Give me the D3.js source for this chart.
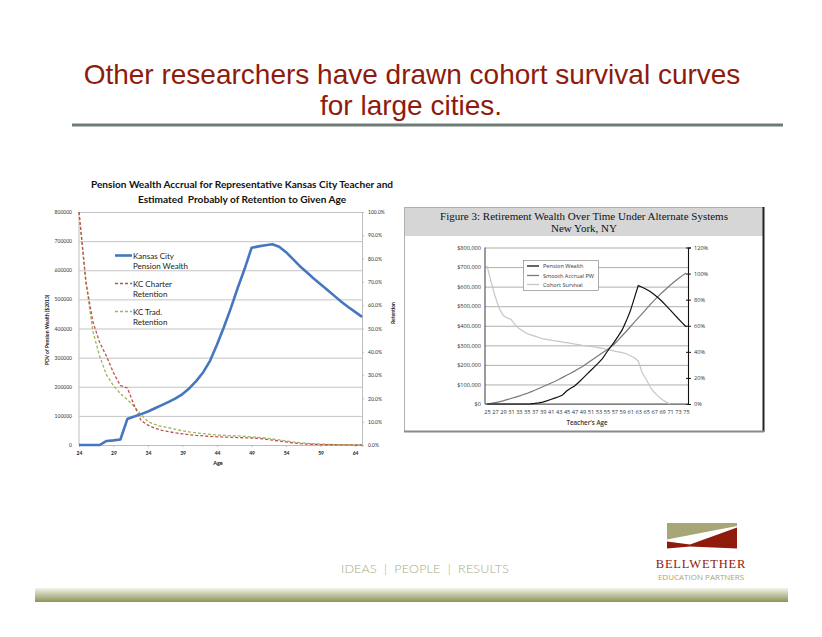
<!DOCTYPE html>
<html>
<head>
<meta charset="utf-8">
<script src="https://cdn.jsdelivr.net/npm/d3@7"></script>
<style>
  body { margin: 0; background: #fff; }
  svg { display: block; }
</style>
</head>
<body>
<svg id="slide" width="822" height="637"></svg>
<script>
// ---- Kansas City chart data (ages 24..65) ----
const kcAges = [24,25,26,27,28,29,30,31,32,33,34,35,36,37,38,39,40,41,42,43,44,
                45,46,47,48,49,50,51,52,53,54,55,56,57,58,59,60,61,62,63,64,65];
const kcWealth = [0,0,0,0,14000,16000,19000,89000,98000,106000,115000,126000,137000,148000,
                  160000,175000,195000,220000,250000,290000,345000,405000,470000,540000,605000,
                  677000,682000,686000,689000,681000,662000,638000,614000,593000,572000,552000,
                  532000,512000,492000,474000,457000,440000];
const kcCharter = [1.0,0.70,0.53,0.44,0.38,0.31,0.255,0.245,0.17,0.105,0.085,0.072,0.063,0.057,
                   0.052,0.048,0.044,0.041,0.039,0.037,0.035,0.034,0.033,0.032,0.031,0.030,0.028,
                   0.025,0.021,0.017,0.013,0.009,0.006,0.004,0.003,0.002,0.001,0.001,0.0005,0.0005,0,0];
const kcTrad = [1.0,0.70,0.49,0.38,0.30,0.255,0.22,0.195,0.165,0.13,0.10,0.088,0.08,0.074,0.067,
                0.061,0.056,0.052,0.049,0.046,0.043,0.041,0.040,0.039,0.037,0.035,0.033,0.030,
                0.026,0.022,0.017,0.013,0.010,0.007,0.005,0.004,0.003,0.002,0.0015,0.001,0.0005,0];
const kcAgeTicks = [24,29,34,39,44,49,54,59,64];
const kcWealthTicks = [0,100000,200000,300000,400000,500000,600000,700000,800000];
const kcRetTicks = [0,0.1,0.2,0.3,0.4,0.5,0.6,0.7,0.8,0.9,1.0];

// ---- New York chart data (ages 25..75) ----
const nyAges = [25,26,27,28,29,30,31,32,33,34,35,36,37,38,39,40,41,42,43,44,45,46,47,48,49,50,
                51,52,53,54,55,56,57,58,59,60,61,62,63,64,65,66,67,68,69,70,71,72,73,74,75];
const nyWealth = [0,0,0,0,0,0,0,0,0,0,0,1000,3000,6000,10000,16000,23000,30000,37000,46000,
                  66000,80000,92000,110000,130000,150000,170000,190000,210000,232000,262000,290000,
                  318000,348000,380000,425000,475000,540000,605000,597000,587000,575000,560000,
                  543000,524000,503000,481000,459000,437000,416000,395000];
const nySmooth = [0,3000,7000,11000,16000,22000,28000,34000,40000,47000,54000,62000,70000,79000,
                  88000,97000,106000,115000,125000,136000,147000,157000,168000,180000,192000,206000,
                  220000,234000,248000,262000,275000,290000,307000,328000,350000,372000,395000,
                  417000,440000,462000,485000,508000,530000,550000,570000,588000,607000,624000,
                  640000,655000,670000];
const nyCohortAges = [25,26,27,28,29,30,31,32,33,34,35,36,37,38,39,40,41,42,43,44,45,46,47,48,
                      49,50,51,52,53,54,55,56,57,58,59,60,61,62,63,64,65,66,67,68,69,70,71];
const nyCohort = [106,94,83,74,68,66,65,61,58,56,54,53,52,51,50,49.5,49,48.5,48,47.5,47,46.5,46,
                  45.5,45,44.6,44.2,43.8,43.2,42.6,42,41.3,40.6,40,39.4,38.5,37,35.5,33,24,19,13,
                  9,6,3.5,1.5,0];
const nyAgeTicks = [25,27,29,31,33,35,37,39,41,43,45,47,49,51,53,55,57,59,61,63,65,67,69,71,73,75];
const nyWealthTicks = [0,100000,200000,300000,400000,500000,600000,700000,800000];
const nyPctTicks = [0,20,40,60,80,100,120];

const svg = d3.select("#slide");

// ---- slide headline ----
const head = svg.append("g")
  .attr("font-family", "'Liberation Sans', Arial, sans-serif")
  .attr("fill", "#8e1b0c")
  .attr("font-size", 28)
  .attr("text-anchor", "middle");
head.append("text").attr("x", 412).attr("y", 84).text("Other researchers have drawn cohort survival curves");
head.append("text").attr("x", 411).attr("y", 115).text("for large cities.");

svg.append("line").attr("x1", 72).attr("x2", 783).attr("y1", 125).attr("y2", 125)
  .attr("stroke", "#6e7c76").attr("stroke-width", 3);

// ================= Kansas City chart =================
const kx = d3.scaleLinear().domain([24, 65]).range([79, 362]);
const kyW = d3.scaleLinear().domain([0, 800000]).range([445, 212]);
const kyR = d3.scaleLinear().domain([0, 1]).range([445, 212]);

const kc = svg.append("g").attr("font-family", "Lato, 'Open Sans', sans-serif");

kc.append("text").attr("x", 242).attr("y", 188).attr("text-anchor", "middle")
  .attr("font-size", 10.1).attr("font-weight", "bold").attr("fill", "#111")
  .text("Pension Wealth Accrual for Representative Kansas City Teacher and");
kc.append("text").attr("x", 242).attr("y", 203).attr("text-anchor", "middle")
  .attr("font-size", 10.1).attr("font-weight", "bold").attr("fill", "#111")
  .attr("xml:space", "preserve")
  .text("Estimated  Probably of Retention to Given Age");

// left axis with gridlines
kc.append("g").attr("transform", "translate(79,0)")
  .call(d3.axisLeft(kyW).tickValues(kcWealthTicks).tickSize(-283).tickPadding(7)
        .tickFormat(d3.format("d")))
  .call(g => g.select(".domain").remove())
  .call(g => g.selectAll(".tick line").attr("stroke", "#bdbdbd").attr("stroke-width", 0.9))
  .call(g => g.selectAll(".tick text").attr("font-size", 5).attr("fill", "#333")
        .attr("font-family", "Lato, sans-serif"));

kc.append("line").attr("x1", 79).attr("x2", 79).attr("y1", 212).attr("y2", 445)
  .attr("stroke", "#bdbdbd");

// right axis
kc.append("g").attr("transform", "translate(362,0)")
  .call(d3.axisRight(kyR).tickValues(kcRetTicks).tickSize(2).tickPadding(4)
        .tickFormat(d3.format(".1%")))
  .call(g => g.select(".domain").attr("stroke", "#bdbdbd"))
  .call(g => g.selectAll(".tick line").attr("stroke", "#bdbdbd"))
  .call(g => g.selectAll(".tick text").attr("font-size", 5).attr("fill", "#333")
        .attr("font-family", "Lato, sans-serif"));

// x axis
kc.append("g").attr("transform", "translate(0,445)")
  .call(d3.axisBottom(kx).tickValues(kcAgeTicks).tickSize(2).tickPadding(4)
        .tickFormat(d3.format("d")))
  .call(g => g.select(".domain").attr("stroke", "#bdbdbd"))
  .call(g => g.selectAll(".tick line").attr("stroke", "#bdbdbd"))
  .call(g => g.selectAll(".tick text").attr("font-size", 5).attr("fill", "#222")
        .attr("font-weight", "bold").attr("font-family", "Lato, sans-serif"));

kc.append("text").attr("x", 218).attr("y", 465).attr("text-anchor", "middle")
  .attr("font-size", 5.5).attr("font-weight", "bold").attr("fill", "#111").text("Age");
kc.append("text").attr("transform", "translate(49,330) rotate(-90)").attr("text-anchor", "middle")
  .attr("font-size", 5).attr("font-weight", "bold").attr("fill", "#111")
  .text("PDV of Pension Wealth ($2013)");
kc.append("text").attr("transform", "translate(395,313) rotate(-90)").attr("text-anchor", "middle")
  .attr("font-size", 5).attr("font-weight", "bold").attr("fill", "#111").text("Retention");

// series
const kcRetLine = vals => d3.line().x((d, i) => kx(kcAges[i])).y(d => kyR(d))(vals);
kc.append("path").attr("d", kcRetLine(kcTrad)).attr("fill", "none")
  .attr("stroke", "#98b954").attr("stroke-width", 1.3).attr("stroke-dasharray", "3,2");
kc.append("path").attr("d", kcRetLine(kcCharter)).attr("fill", "none")
  .attr("stroke", "#c0504d").attr("stroke-width", 1.3).attr("stroke-dasharray", "3,2");
kc.append("path")
  .attr("d", d3.line().x((d, i) => kx(kcAges[i])).y(d => kyW(d))(kcWealth))
  .attr("fill", "none").attr("stroke", "#4677be").attr("stroke-width", 2.6)
  .attr("stroke-linejoin", "round");

// legend
const kcLegend = [
  { label: ["Kansas City", "Pension Wealth"], color: "#4677be", width: 2.6, dash: null, y: 255.5 },
  { label: ["KC Charter", "Retention"], color: "#c0504d", width: 1.3, dash: "3,2", y: 283.5 },
  { label: ["KC Trad.", "Retention"], color: "#98b954", width: 1.3, dash: "3,2", y: 311.5 }
];
kcLegend.forEach(item => {
  kc.append("line").attr("x1", 115).attr("x2", 132).attr("y1", item.y).attr("y2", item.y)
    .attr("stroke", item.color).attr("stroke-width", item.width)
    .attr("stroke-dasharray", item.dash);
  item.label.forEach((t, j) => {
    kc.append("text").attr("x", 133).attr("y", item.y + 3 + j * 10)
      .attr("font-size", 8).attr("fill", "#222").text(t);
  });
});

// ================= New York chart =================
const ny = svg.append("g");
ny.append("rect").attr("x", 404.5).attr("y", 207.5).attr("width", 359).attr("height", 224)
  .attr("fill", "#fff").attr("stroke", "#b0b0b0").attr("stroke-width", 1);
ny.append("rect").attr("x", 405).attr("y", 208).attr("width", 358).attr("height", 28)
  .attr("fill", "#d6d6d6");
ny.append("line").attr("x1", 763.5).attr("x2", 763.5).attr("y1", 207).attr("y2", 432)
  .attr("stroke", "#222").attr("stroke-width", 2);
ny.append("line").attr("x1", 404).attr("x2", 764).attr("y1", 431.5).attr("y2", 431.5)
  .attr("stroke", "#8a8a8a").attr("stroke-width", 2);

ny.append("text").attr("x", 584).attr("y", 220).attr("text-anchor", "middle")
  .attr("font-family", "'Liberation Serif', 'DejaVu Serif', serif").attr("font-size", 11)
  .attr("fill", "#111").text("Figure 3: Retirement Wealth Over Time Under Alternate Systems");
ny.append("text").attr("x", 584).attr("y", 231.5).attr("text-anchor", "middle")
  .attr("font-family", "'Liberation Serif', 'DejaVu Serif', serif").attr("font-size", 11)
  .attr("fill", "#111").text("New York, NY");

const nx = d3.scaleLinear().domain([25, 75]).range([487, 686]);
const nyW = d3.scaleLinear().domain([0, 800000]).range([404, 247.5]);
const nyP = d3.scaleLinear().domain([0, 120]).range([404, 247.5]);
const nyFont = "'Open Sans', 'Noto Sans', sans-serif";

ny.append("g").attr("transform", "translate(485,0)")
  .call(d3.axisLeft(nyW).tickValues(nyWealthTicks).tickSize(-203).tickPadding(4)
        .tickFormat(d3.format("$,")))
  .call(g => g.select(".domain").remove())
  .call(g => g.selectAll(".tick line").attr("stroke", "#a6a6a6").attr("stroke-width", 0.9))
  .call(g => g.selectAll(".tick text").attr("font-size", 5.6).attr("fill", "#333")
        .attr("font-family", nyFont));
ny.append("line").attr("x1", 485).attr("x2", 485).attr("y1", 247.5).attr("y2", 404)
  .attr("stroke", "#222").attr("stroke-width", 0.9);

ny.append("g").attr("transform", "translate(688,0)")
  .call(d3.axisRight(nyP).tickValues(nyPctTicks).tickSize(3).tickPadding(3)
        .tickFormat(d => d + "%"))
  .call(g => g.select(".domain").attr("stroke", "#111").attr("stroke-width", 1.1))
  .call(g => g.selectAll(".tick line").attr("x1", -2).attr("stroke", "#111"))
  .call(g => g.selectAll(".tick text").attr("font-size", 5.6).attr("fill", "#333")
        .attr("font-family", nyFont));

ny.append("g").attr("transform", "translate(0,404)")
  .call(d3.axisBottom(nx).tickValues(nyAgeTicks).tickSize(0).tickPadding(6)
        .tickFormat(d3.format("d")))
  .call(g => g.select(".domain").attr("stroke", "#555").attr("d", "M485,0H688"))
  .call(g => g.selectAll(".tick text").attr("font-size", 5.6).attr("fill", "#333")
        .attr("font-family", nyFont));

ny.append("text").attr("x", 587).attr("y", 425).attr("text-anchor", "middle")
  .attr("font-family", nyFont).attr("font-size", 6.2).attr("font-weight", 600)
  .attr("fill", "#333").text("Teacher's Age");

ny.append("path")
  .attr("d", d3.line().x((d, i) => nx(nyCohortAges[i])).y(d => nyP(d))(nyCohort))
  .attr("fill", "none").attr("stroke", "#c6c6c6").attr("stroke-width", 1.2);
ny.append("path")
  .attr("d", d3.line().x((d, i) => nx(nyAges[i])).y(d => nyW(d))(nySmooth))
  .attr("fill", "none").attr("stroke", "#7a7a7a").attr("stroke-width", 1.2);
ny.append("path")
  .attr("d", d3.line().x((d, i) => nx(nyAges[i])).y(d => nyW(d))(nyWealth))
  .attr("fill", "none").attr("stroke", "#111").attr("stroke-width", 1.2);

// legend
ny.append("rect").attr("x", 523.5).attr("y", 260.5).attr("width", 75).attr("height", 30)
  .attr("fill", "#fff").attr("stroke", "#8a8a8a").attr("stroke-width", 0.7);
const nyLegend = [
  { label: "Pension Wealth", color: "#111", y: 266 },
  { label: "Smooth Accrual PW", color: "#7a7a7a", y: 275.5 },
  { label: "Cohort Survival", color: "#c6c6c6", y: 284.5 }
];
nyLegend.forEach(item => {
  ny.append("line").attr("x1", 527).attr("x2", 539).attr("y1", item.y).attr("y2", item.y)
    .attr("stroke", item.color).attr("stroke-width", 1.3);
  ny.append("text").attr("x", 543).attr("y", item.y + 2).attr("font-family", nyFont)
    .attr("font-size", 5.6).attr("fill", "#333").text(item.label);
});

// ================= footer =================
svg.append("text").attr("x", 425).attr("y", 573).attr("text-anchor", "middle")
  .attr("font-family", "Lato, 'Open Sans', sans-serif").attr("font-size", 12.5)
  .attr("font-weight", 300).attr("letter-spacing", 0.2).attr("fill", "#a6aa7c")
  .text("IDEAS  |  PEOPLE  |  RESULTS").attr("xml:space", "preserve");

const logo = svg.append("g");
logo.append("polygon")
  .attr("points", "667,523 737,523 737,526 667,539.5")
  .attr("fill", "#a6a676");
logo.append("polygon")
  .attr("points", "667,541.5 690,544.5 737,527.5 737,548.5 690,546.5 667,548.5")
  .attr("fill", "#8e1b0c");
logo.append("text").attr("x", 701).attr("y", 568).attr("text-anchor", "middle")
  .attr("font-family", "'Liberation Serif', serif").attr("font-size", 12.5)
  .attr("letter-spacing", 0.8).attr("fill", "#8e1b0c").text("BELLWETHER");
logo.append("text").attr("x", 701).attr("y", 579.5).attr("text-anchor", "middle")
  .attr("font-family", "'Open Sans', sans-serif").attr("font-size", 8)
  .attr("fill", "#a6a676").text("EDUCATION PARTNERS");

const grad = svg.append("defs").append("linearGradient").attr("id", "band")
  .attr("x1", 0).attr("y1", 0).attr("x2", 0).attr("y2", 1);
grad.append("stop").attr("offset", "0%").attr("stop-color", "#f3f3ea");
grad.append("stop").attr("offset", "100%").attr("stop-color", "#8d9356");
svg.append("rect").attr("x", 35).attr("y", 588).attr("width", 753).attr("height", 14)
  .attr("fill", "url(#band)");
</script>
</body>
</html>
